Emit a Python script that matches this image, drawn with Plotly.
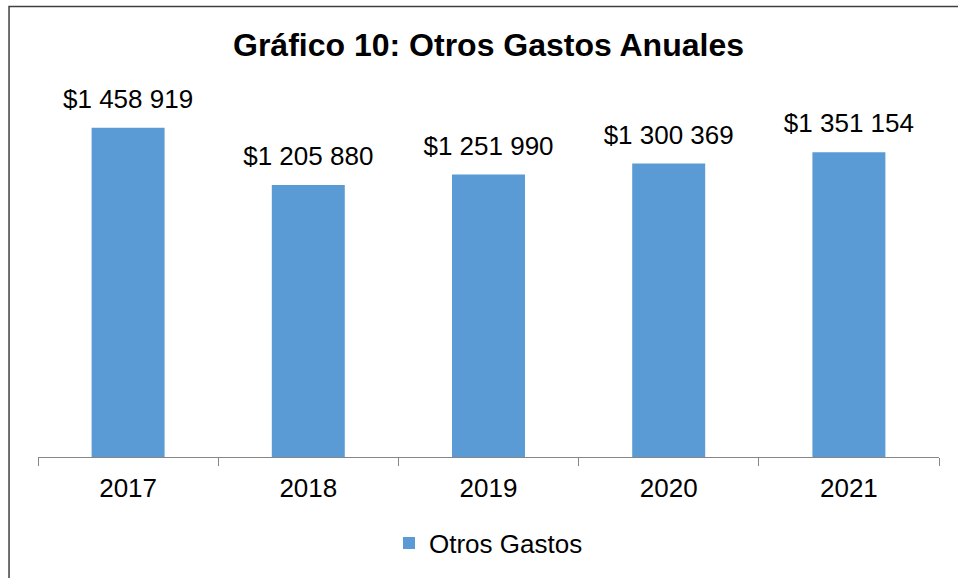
import plotly.graph_objects as go

years = ["2017", "2018", "2019", "2020", "2021"]
values = [1458919, 1205880, 1251990, 1300369, 1351154]
labels = ["$1 458 919", "$1 205 880", "$1 251 990", "$1 300 369", "$1 351 154"]
series_name = "Otros Gastos"
title_text = "Gráfico 10: Otros Gastos Anuales"

FONT = "Liberation Sans, Arial, sans-serif"

fig = go.Figure()
fig.add_trace(go.Bar(
    x=years, y=values, name=series_name,
    marker=dict(color="#5b9bd5", line=dict(width=0)),
    width=0.405, showlegend=True,
))
fig.add_trace(go.Scatter(
    x=years, y=values, mode="markers+text", text=labels, textposition="top center",
    marker=dict(size=20, color="rgba(0,0,0,0)"),
    textfont=dict(family=FONT, size=26, color="#000000"),
    showlegend=False, cliponaxis=False, hoverinfo="skip",
))

L, R, T, B = 37.5, 939.5, 96, 457
W, H = 958, 578
pw, ph = R - L, B - T
fig.add_shape(type="rect", xref="paper", yref="paper",
              x0=(8.5 - L) / pw, x1=(962 - L) / pw,
              y0=(B - 582) / ph, y1=(B - 6.5) / ph,
              line=dict(color="#404040", width=1.5), fillcolor="rgba(0,0,0,0)", layer="below")

fig.update_layout(
    width=W, height=H,
    margin=dict(l=L, r=W - R, t=T, b=H - B),
    paper_bgcolor="white", plot_bgcolor="white",
    font=dict(family=FONT, size=26, color="#000000"),
    title=dict(text="<b>" + title_text + "</b>", x=0.5, xref="paper", xanchor="center",
               y=1 - 45 / H, yanchor="middle", font=dict(family=FONT, size=32, color="#000000")),
    showlegend=True,
    legend=dict(orientation="h", x=0.5, xanchor="center", y=(B - 543) / ph, yanchor="middle",
                font=dict(family=FONT, size=26), itemwidth=30, tracegroupgap=0),
    xaxis=dict(type="category", showline=True, linecolor="#868686", linewidth=1, ticks="outside",
               ticklen=8, tickcolor="#868686", tickson="boundaries", showgrid=False,
               tickangle=0, ticklabelstandoff=8, tickfont=dict(family=FONT, size=26)),
    yaxis=dict(range=[0, 1600000], visible=False, showgrid=False),
    bargap=0.595,
)

fig.write_html("out.html")
